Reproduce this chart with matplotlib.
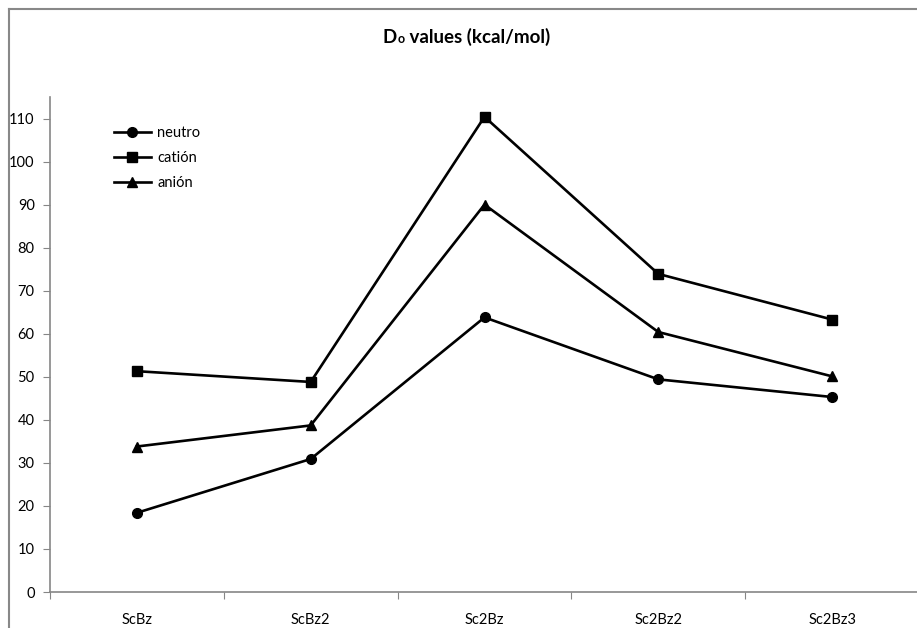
import matplotlib
matplotlib.use('Agg')
import matplotlib.pyplot as plt
from matplotlib.lines import Line2D
import numpy as np

categories = ['ScBz', 'ScBz2', 'Sc2Bz', 'Sc2Bz2', 'Sc2Bz3']
neutro = [18.4, 30.9, 63.8, 49.4, 45.3]
cation = [51.3, 48.8, 110.4, 73.9, 63.3]
anion = [33.8, 38.7, 90.0, 60.4, 50.1]

plt.rcParams['font.family'] = ['Lato', 'DejaVu Sans']

W, H = 917, 628
fig = plt.figure(figsize=(W / 100, H / 100), dpi=100)
ax = fig.add_axes([50 / W, 36 / H, 869 / W, (592 - 97) / H])

x = np.arange(len(categories))
lw = 1.9
ax.plot(x, neutro, color='black', lw=lw, marker='o', ms=7, label='neutro')
ax.plot(x, cation, color='black', lw=lw, marker='s', ms=7, label='catión')
ax.plot(x, anion, color='black', lw=lw, marker='^', ms=7.5, label='anión')

ax.set_xlim(-0.5, len(categories) - 0.5)
ax.set_ylim(0, 115)
ax.set_yticks(np.arange(0, 111, 10))

# category ticks at the boundaries, labels in between
ax.set_xticks(np.arange(-0.5, len(categories), 1))
ax.set_xticklabels([])
ax.set_xticks(x, minor=True)
ax.set_xticklabels(categories, minor=True)
ax.tick_params(axis='x', which='minor', length=0, pad=15, labelsize=10.5)
ax.tick_params(axis='x', which='major', length=5, color='#868686', direction='out')
ax.tick_params(axis='y', length=5, color='#868686', direction='out', labelsize=10.5, pad=6)

for s in ['top', 'right']:
    ax.spines[s].set_visible(False)
for s in ['left', 'bottom']:
    ax.spines[s].set_color('#868686')
    ax.spines[s].set_linewidth(1.2)

leg = ax.legend(loc='upper left', bbox_to_anchor=(0.058, 0.968), frameon=False,
                handlelength=2.6, handletextpad=0.4, labelspacing=0.75, fontsize=10.5)

# title: "D" with a small "o" sitting on the baseline
ty = 1 - 43 / H
t1 = fig.text(383 / W, ty, 'D', ha='left', va='baseline', fontsize=13.5, fontweight='bold')
fig.canvas.draw()
r = fig.canvas.get_renderer()
bb = t1.get_window_extent(r)
t2 = fig.text(bb.x1 / W + 0.5 / W, ty, 'o', ha='left', va='baseline', fontsize=9, fontweight='bold')
bb2 = t2.get_window_extent(r)
fig.text(bb2.x1 / W, ty, ' values (kcal/mol)', ha='left', va='baseline',
         fontsize=13.5, fontweight='bold')

# chart area border (left and top only visible)
fig.add_artist(Line2D([8.5 / W, 8.5 / W], [0, 1 - 9 / H], color='#888888', lw=1.5))
fig.add_artist(Line2D([8.5 / W, 1], [1 - 9 / H, 1 - 9 / H], color='#888888', lw=1.5))

fig.savefig('out.png', dpi=100)
